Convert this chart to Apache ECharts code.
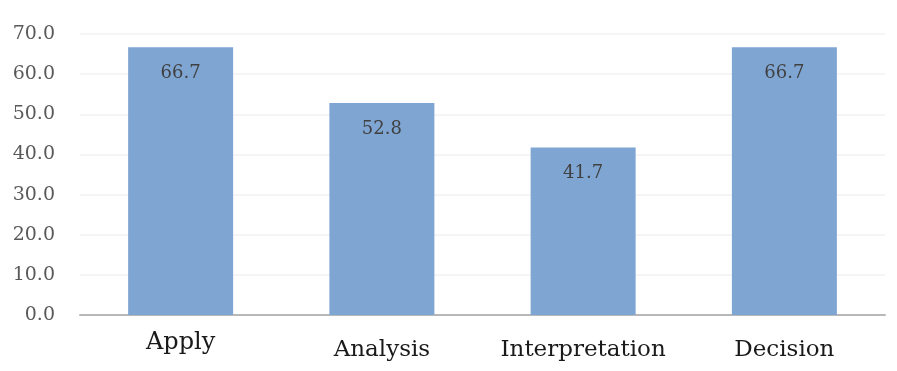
<!DOCTYPE html>
<html>
<head>
<meta charset="utf-8">
<script src="https://cdn.jsdelivr.net/npm/echarts@6/dist/echarts.min.js"></script>
<style>
  html, body { margin: 0; padding: 0; background: #fff; }
  #chart { width: 897px; height: 371px; }
</style>
</head>
<body>
<div id="chart"></div>
<script>
// data
var categories = ['Apply', 'Analysis', 'Interpretation', 'Decision'];
var scores = [66.7, 52.8, 41.7, 66.7];

var chart = echarts.init(document.getElementById('chart'));

// "Apply" sits a little higher and larger than the other labels in the source
var catData = categories.map(function (c, i) {
    if (i === 0) {
        return { value: c, textStyle: { fontSize: 24, padding: [-8, 0, 0, 0] } };
    }
    return c;
});

var options = {
    animation: false,
    grid: { left: 80, right: 12, top: 34, bottom: 56 },
    xAxis: {
        type: 'category',
        data: catData,
        axisTick: { show: false },
        axisLine: { lineStyle: { color: '#b8b8b8', width: 2 } },
        axisLabel: {
            interval: 0,
            margin: 24,
            color: '#1a1a1a',
            fontFamily: 'DejaVu Serif',
            fontSize: 23
        }
    },
    yAxis: {
        type: 'value',
        min: 0,
        max: 70,
        interval: 10,
        axisLine: { show: false },
        axisTick: { show: false },
        splitLine: { lineStyle: { color: '#f2f2f2', width: 1.5 } },
        axisLabel: {
            margin: 25,
            color: '#595959',
            fontFamily: 'DejaVu Serif',
            fontSize: 19,
            formatter: function (v) { return v.toFixed(1); }
        }
    },
    series: [{
        type: 'bar',
        data: scores,
        barWidth: 105,
        itemStyle: { color: '#7fa6d3' },
        label: {
            show: true,
            position: 'insideTop',
            distance: 17,
            color: '#404040',
            fontFamily: 'DejaVu Serif',
            fontSize: 18,
            formatter: function (p) { return p.value.toFixed(1); }
        }
    }]
};
chart.setOption(options);
</script>
</body>
</html>
